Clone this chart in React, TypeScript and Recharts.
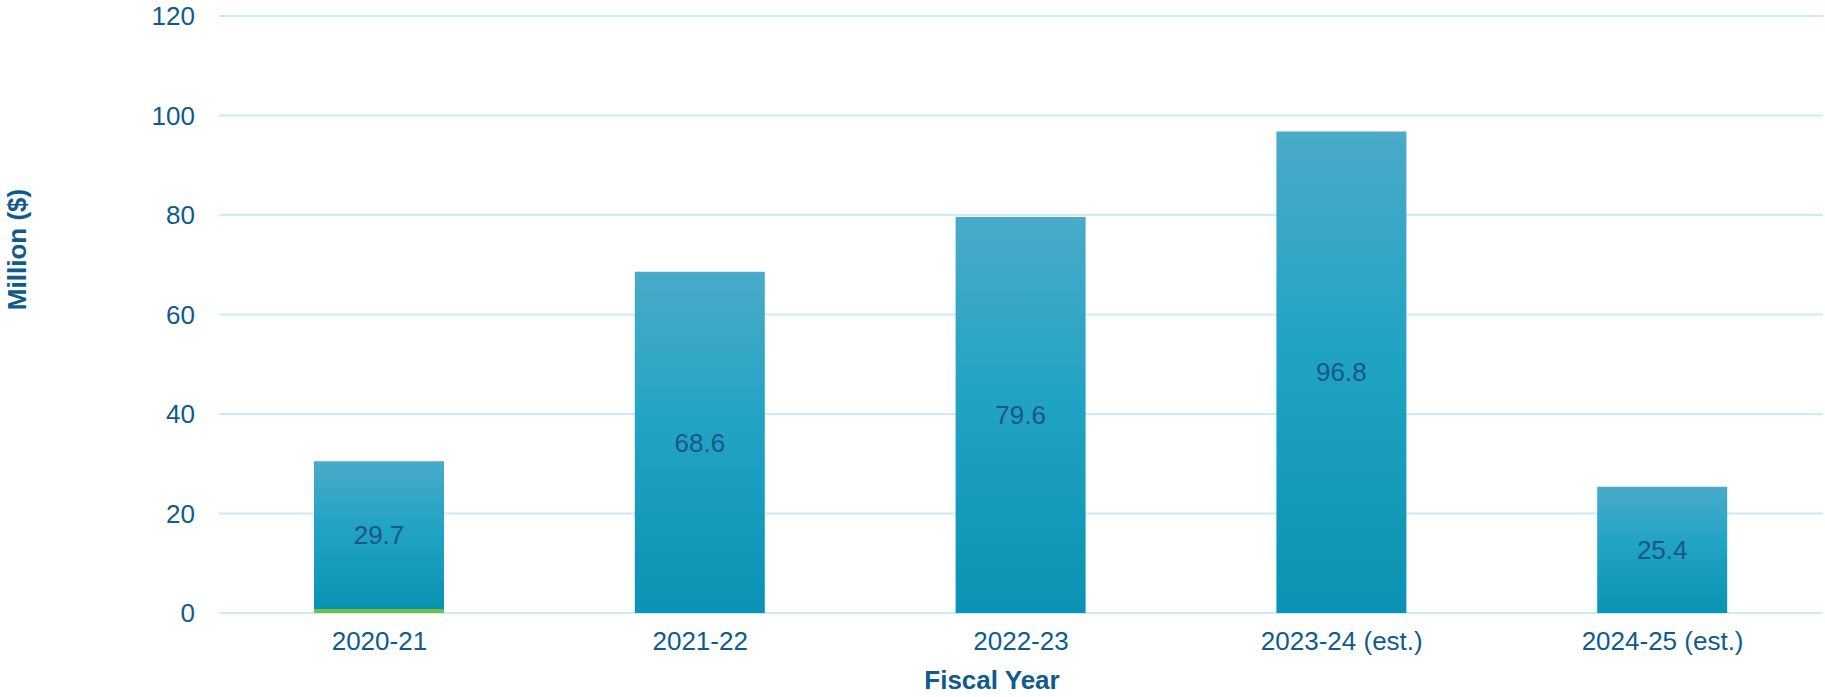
import React from "react";
import { BarChart, Bar, XAxis, YAxis, CartesianGrid, LabelList } from "recharts";

// fiscal years on the x axis
const years = ["2020-21", "2021-22", "2022-23", "2023-24 (est.)", "2024-25 (est.)"];
// main (blue) amounts, million $
const mainAmounts = [29.7, 68.6, 79.6, 96.8, 25.4];
// small green segment at the bottom of the first bar
const otherAmounts = [0.8, 0, 0, 0, 0];
const yTicks = [0, 20, 40, 60, 80, 100, 120];

const data = years.map((year, i) => ({
    year,
    other: otherAmounts[i],
    main: mainAmounts[i],
}));

const font = "'Liberation Sans', Arial, sans-serif";
const axisBlue = "#0f5b8c";

const YLabel = (props: any) => {
    const { x, y, height } = props.viewBox;
    const cx = x + 17;
    const cy = y + height / 2 - 65;
    return (
        <text
            x={cx}
            y={cy}
            transform={`rotate(-90 ${cx} ${cy})`}
            textAnchor="middle"
            dominantBaseline="central"
            fill={axisBlue}
            fontFamily={font}
            fontSize={26}
            fontWeight="bold"
        >
            Million ($)
        </text>
    );
};

const XLabel = (props: any) => {
    const { x, y, width } = props.viewBox;
    return (
        <text
            x={x + width / 2 - 29}
            y={y + 76}
            textAnchor="middle"
            fill={axisBlue}
            fontFamily={font}
            fontSize={26}
            fontWeight="bold"
        >
            Fiscal Year
        </text>
    );
};

const App = () => {
    return (
        <div style={{ position: "absolute", left: 0, top: 0, background: "#fff" }}>
            <BarChart
                width={1825}
                height={697}
                data={data}
                margin={{ top: 16, right: 2, bottom: 0, left: 0 }}
            >
                <defs>
                    <linearGradient id="blueGrad" x1="0" y1="0" x2="0" y2="1">
                        <stop offset="0%" stopColor="#4aaac9" />
                        <stop offset="45%" stopColor="#21a3c4" />
                        <stop offset="100%" stopColor="#0a93b4" />
                    </linearGradient>
                </defs>
                <CartesianGrid vertical={false} stroke="#c9ebfb" strokeWidth={2} />
                <XAxis
                    dataKey="year"
                    height={84}
                    axisLine={false}
                    tickLine={false}
                    tickSize={6}
                    tickMargin={13}
                    tick={{ fill: axisBlue, fontFamily: font, fontSize: 26 }}
                    label={<XLabel />}
                />
                <YAxis
                    width={219}
                    domain={[0, 120]}
                    ticks={yTicks}
                    axisLine={false}
                    tickLine={false}
                    tickSize={6}
                    tickMargin={18}
                    tick={{ fill: axisBlue, fontFamily: font, fontSize: 26 }}
                    label={<YLabel />}
                />
                <Bar dataKey="other" stackId="a" fill="#72c043" barSize={130} isAnimationActive={false} />
                <Bar dataKey="main" stackId="a" fill="url(#blueGrad)" barSize={130} isAnimationActive={false}>
                    <LabelList
                        dataKey="main"
                        position="center"
                        fill="#1a568a"
                        fontFamily={font}
                        fontSize={26}
                    />
                </Bar>
            </BarChart>
        </div>
    );
};

export default App;
